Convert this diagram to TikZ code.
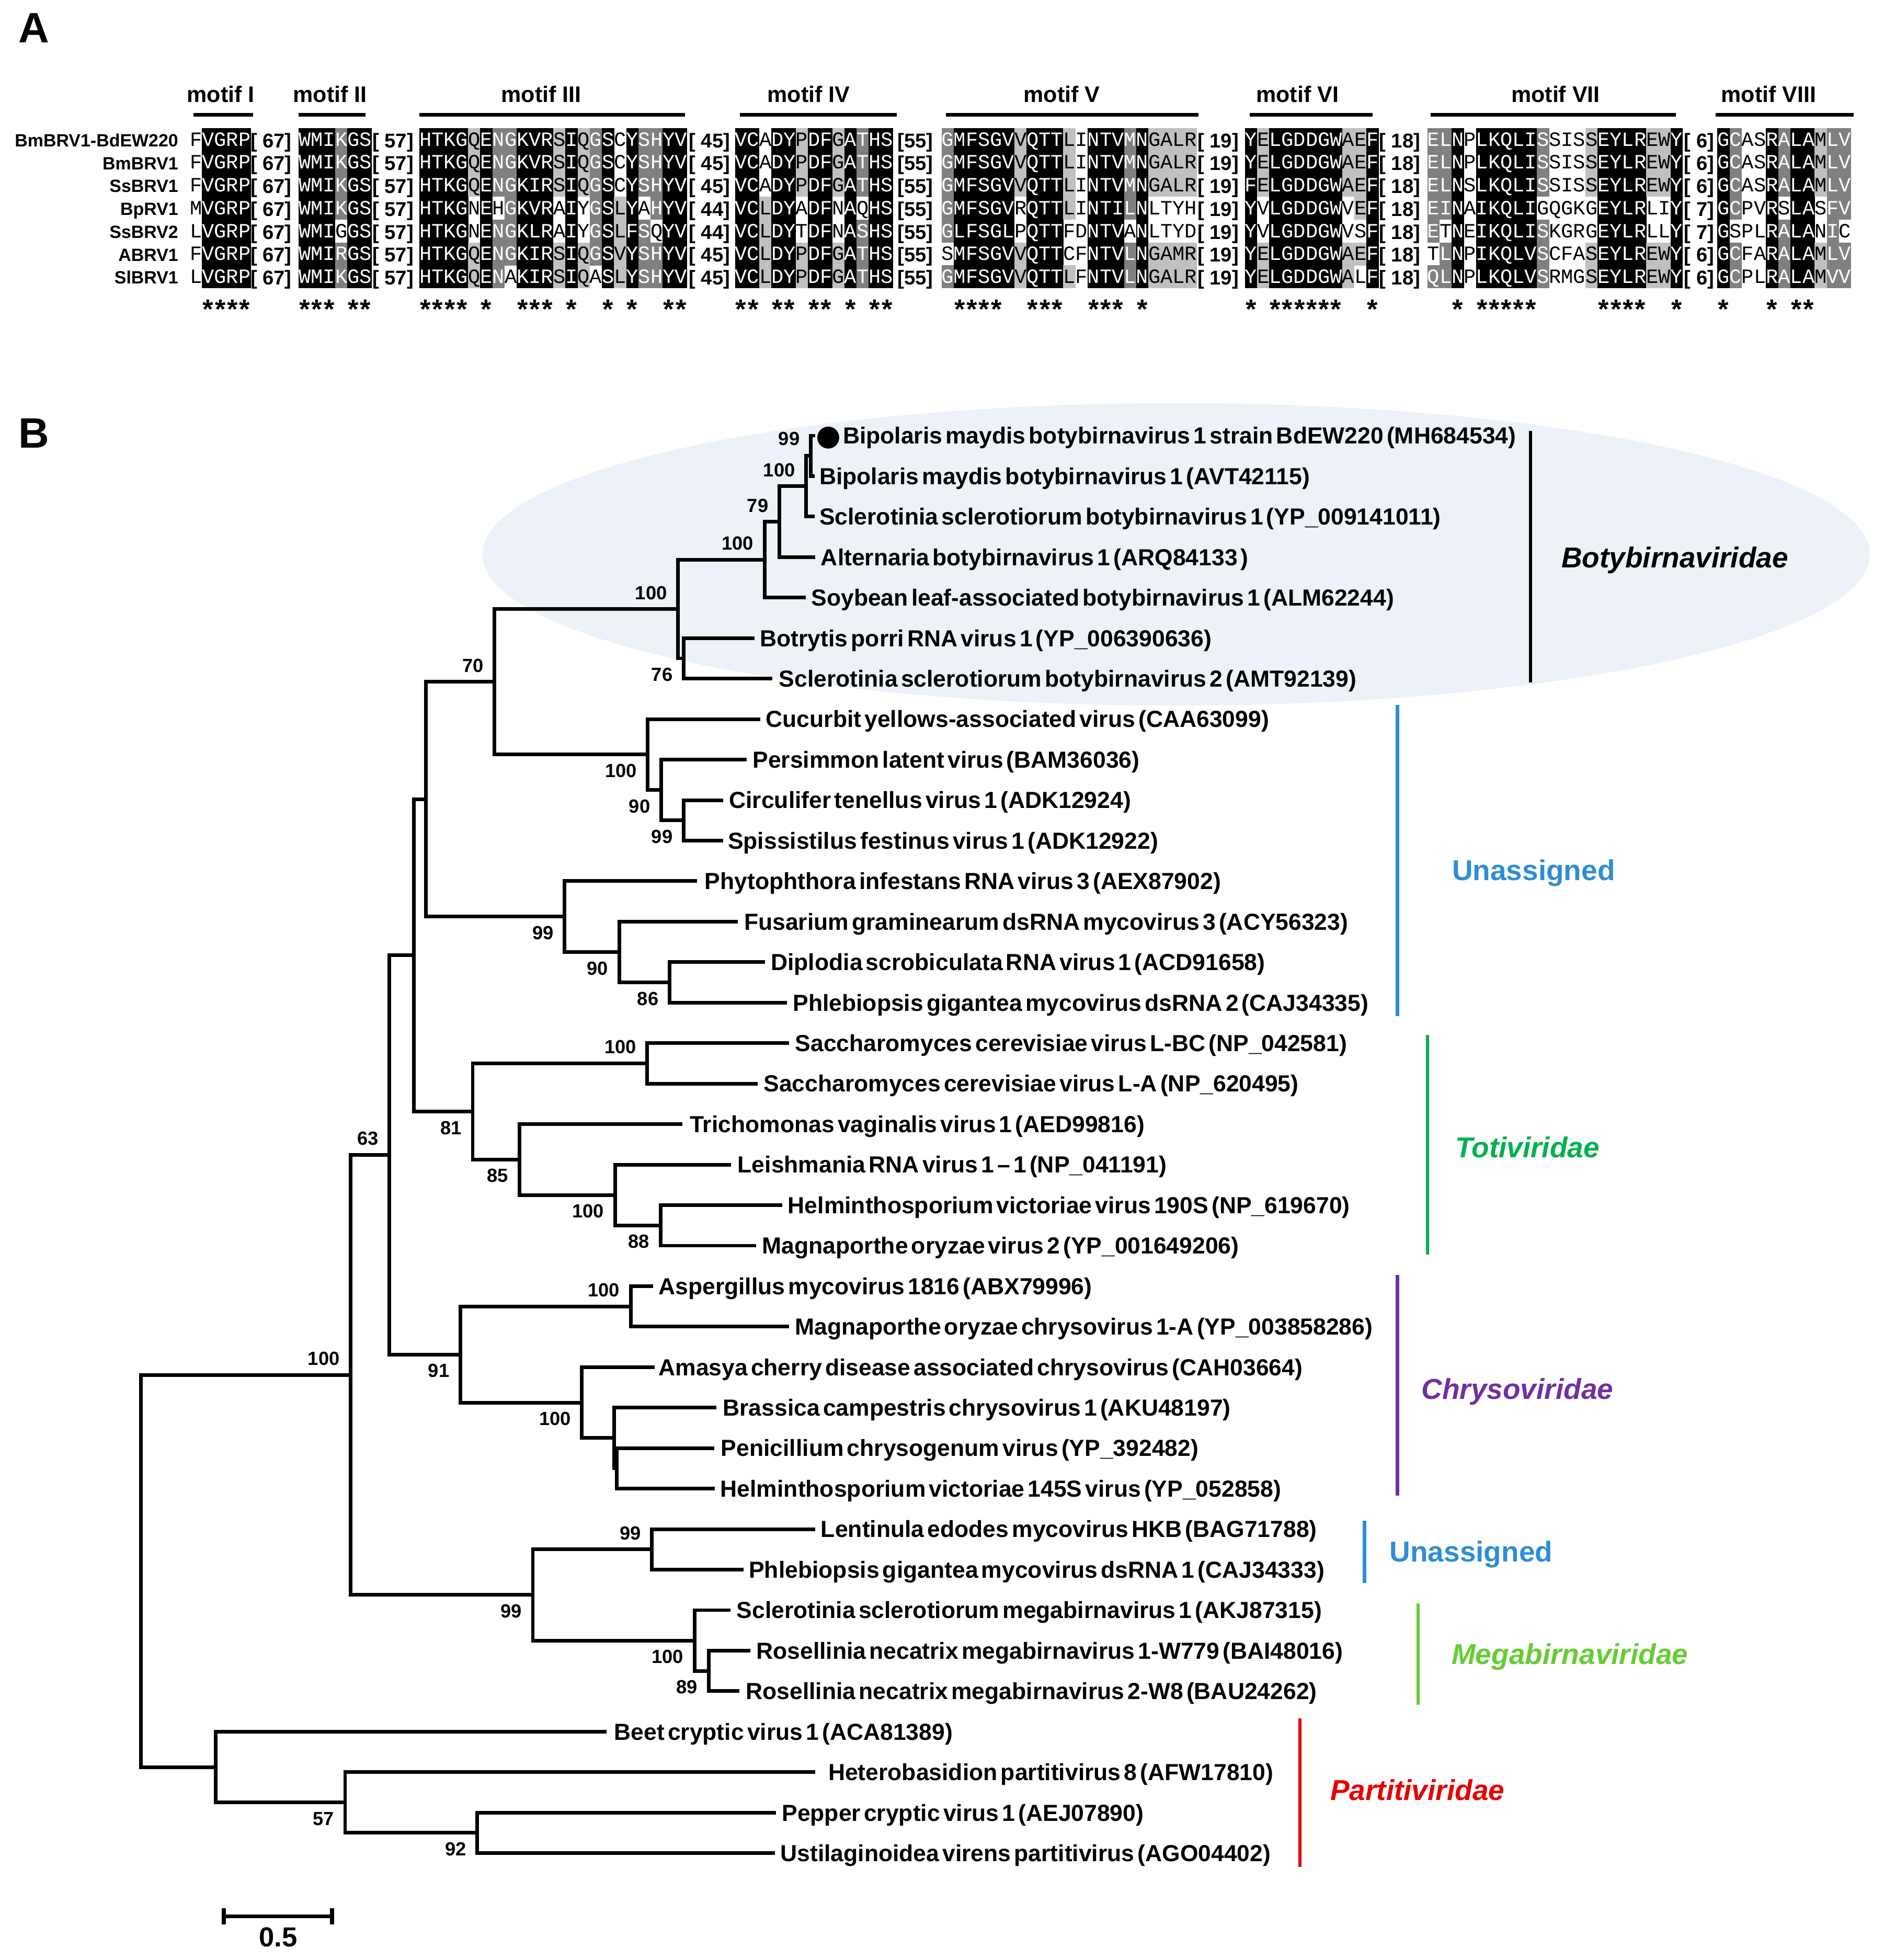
\documentclass[tikz,border=0pt]{standalone}
\usepackage{fontspec}
\setmainfont{Liberation Sans}
\newfontfamily\resfont{Liberation Mono}
\newfontfamily\treefont{Liberation Sans}[WordSpace=0.5]
\newfontfamily\dotfont{DejaVu Sans}

\definecolor{ellfill}{RGB}{237,241,248}
\definecolor{unblue}{RGB}{46,142,212}
\definecolor{totigreen}{RGB}{0,176,80}
\definecolor{chrysopurple}{RGB}{112,48,160}
\definecolor{megagreen}{RGB}{102,204,51}
\definecolor{partired}{RGB}{230,0,0}
\definecolor{shk}{RGB}{0,0,0}
\definecolor{shd}{RGB}{128,128,128}
\definecolor{shl}{RGB}{192,192,192}
\definecolor{shw}{RGB}{255,255,255}
\colorlet{txk}{white}
\colorlet{txd}{white}
\colorlet{txl}{black}
\colorlet{txw}{black}

% alignment: one cell per residue, '|' starts the next block
\newcount\alnc
\newcount\alnseg
\def\alnxs{{151.9,239,335.6,588,753.3,996,1142,1374}}
\def\alnloop#1#2\relax#3#4\relax{%
  \ifx|#1\global\advance\alnseg by 1\relax\global\alnc=0\relax
  \else\alndo{#1}{#3}\global\advance\alnc by 1\relax\fi
  \ifx\relax#2\relax\else\alnloop#2\relax#4\relax\fi}
\newcommand\alncell[2]{%
  \pgfmathsetmacro\alncx{\alnxs[\the\alnseg]+9.73*\the\alnc}%
  \ifx w#2\else\fill[sh#2] (\alncx,\alnyo-9.7) rectangle ++(9.85,18.4);\fi
  \node[res, text=tx#2] (a\alnk-\the\alnseg-\the\alnc) at (\alncx+4.865,\alnyo) {#1};}
\newcommand\alnseq[4]{%
  \def\alnk{#1}\def\alnyo{#2}\global\alnc=0\relax\global\alnseg=0\relax
  \let\alndo\alncell
  \alnloop#3\relax#4\relax}
\newcommand\alnstar[2]{%
  \if s#2\pgfmathsetmacro\alncx{\alnxs[\the\alnseg]+9.73*\the\alnc}%
  \node[cons] (s-\the\alnseg-\the\alnc) at (\alncx+4.865,243) {*};\fi}
\newcommand\alnstars[1]{%
  \global\alnc=0\relax\global\alnseg=0\relax
  \let\alndo\alnstar
  \alnloop#1\relax#1\relax}

\tikzset{
    branch/.style={line width=1.45pt},
    leaflab/.style={anchor=base west, inner sep=0pt, yshift=-3.3pt,
        font=\treefont\bfseries\fontsize{9.3}{10}\selectfont},
    boot/.style={anchor=east, inner sep=0pt, xshift=-4.25pt,
        font=\bfseries\fontsize{7.6}{8}\selectfont},
    cladebar/.style={line width=1.3pt},
    cladelab/.style={anchor=base, inner sep=0pt, yshift=-4.1pt,
        font=\bfseries\itshape\fontsize{11.5}{12}\selectfont},
    cladeup/.style={cladelab, font=\bfseries\fontsize{11.5}{12}\selectfont},
    res/.style={anchor=base, inner sep=0pt, yshift=-2.3pt,
        font=\resfont\fontsize{8.1}{8}\selectfont},
    cons/.style={anchor=base, inner sep=0pt, yshift=-6pt,
        font=\bfseries\fontsize{11}{11}\selectfont},
    seqname/.style={anchor=base east, inner sep=0pt, yshift=-2.55pt,
        font=\bfseries\fontsize{7.1}{8}\selectfont},
    gap/.style={anchor=base west, inner sep=0pt, yshift=-2.9pt,
        font=\bfseries\fontsize{8}{8}\selectfont},
    motiflab/.style={anchor=base, inner sep=0pt, yshift=-3.2pt,
        font=\bfseries\fontsize{9}{9}\selectfont},
    motifbar/.style={line width=1.5pt},
    panel/.style={anchor=base, inner sep=0pt, yshift=-6.1pt,
        font=\bfseries\fontsize{17}{17}\selectfont}
}

\begin{document}
\begin{tikzpicture}[x=0.5pt, y=-0.5pt]
    \useasboundingbox (0,0) rectangle (1507,1568);

    % panel A: motifs
    \node[panel] (pA) at (27,22) {A};
    \foreach \m/\xc/\xa/\xb in {I/176.6/154.8/202.5, II/264/239/292.5,
        III/433/335.6/548.2, IV/647/591.8/717.3, V/849.5/757/958.8,
        VI/1038/999.8/1098, VII/1244.6/1144.6/1341, VIII/1415/1372.7/1483} {
        \node[motiflab] (m\m) at (\xc,75.3) {motif \m};
        \coordinate (ma\m) at (\xa,91.8);
        \coordinate (mb\m) at (\xb,91.8);
        \draw[motifbar] (ma\m) -- (mb\m);
    }

    \alnseq{1}{112.2}{FVGRP|WMIKGS|HTKGQENGKVRSIQGSCYSHYV|VCADYPDFGATHS|GMFSGVVQTTLINTVMNGALR|YELGDDGWAEF|ELNPLKQLISSISSEYLREWY|GCASRALAMLV}
        {wkkkk|kkkdkk|kkkklkddkkklkldkwkddkk|kkwkklkklkdkk|dkkkkklkkklwkkkdkllll|klkkkkkkllk|ddkwkkkkkdwwwlkkkkllk|kdwwkdkkldd}
    \alnseq{2}{130.5}{FVGRP|WMIKGS|HTKGQENGKVRSIQGSCYSHYV|VCADYPDFGATHS|GMFSGVVQTTLINTVMNGALR|YELGDDGWAEF|ELNPLKQLISSISSEYLREWY|GCASRALAMLV}
        {wkkkk|kkkdkk|kkkklkddkkklkldkwkddkk|kkwkklkklkdkk|dkkkkklkkklwkkkdkllll|klkkkkkkllk|ddkwkkkkkdwwwlkkkkllk|kdwwkdkkldd}
    \alnseq{3}{148.8}{FVGRP|WMIKGS|HTKGQENGKIRSIQGSCYSHYV|VCADYPDFGATHS|GMFSGVVQTTLINTVMNGALR|FELGDDGWAEF|ELNSLKQLISSISSEYLREWY|GCASRALAMLV}
        {wkkkk|kkkdkk|kkkklkddkkklkldkwkddkk|kkwkklkklkdkk|dkkkkklkkklwkkkdkllll|klkkkkkkllk|ddkwkkkkkdwwwlkkkkllk|kdwwkdkkldd}
    \alnseq{4}{167.1}{MVGRP|WMIKGS|HTKGNEHGKVRAIYGSLYAHYV|VCLDYADFNAQHS|GMFSGVRQTTLINTILNLTYH|YVLGDDGWVEF|EINAIKQLIGQGKGEYLRLIY|GCPVRSLASFV}
        {wkkkk|kkkdkk|kkkkwkwdkkkwkwdklkwdkk|kklkkwkkwkwkk|dkkkkkwkkklwkkkdkwwww|kwkkkkkkwlk|ddkwkkkkkwwwwwkkkkwwk|kdwwkwkkwdd}
    \alnseq{5}{185.4}{LVGRP|WMIGGS|HTKGNENGKLRAIYGSLFSQYV|VCLDYTDFNASHS|GLFSGLPQTTFDNTVANLTYD|YVLGDDGWVSF|ETNEIKQLISKGRGEYLRLLY|GSPLRALANIC}
        {wkkkk|kkkwkk|kkkkwkddkkkwkwdklkdwkk|kklkkwkkwkdkk|dkkkkkwkkkwwkkkwkwwww|kwkkkkkkwwk|dwkwkkkkkdwwwwkkkkwwk|kwwwkdkkwdw}
    \alnseq{6}{203.7}{FVGRP|WMIRGS|HTKGQENGKIRSIQGSVYSHYV|VCLDYPDFGATHS|SMFSGVVQTTCFNTVLNGAMR|YELGDDGWAEF|TLNPIKQLVSCFASEYLREWY|GCFARALAMLV}
        {wkkkk|kkkdkk|kkkklkddkkklkldklkddkk|kklkklkklkdkk|wkkkkklkkkwwkkkdkllll|klkkkkkkllk|wdkwkkkkkdwwwlkkkkllk|kdwwkdkkldd}
    \alnseq{7}{222.0}{LVGRP|WMIKGS|HTKGQENAKIRSIQASLYSHYV|VCLDYPDFGATHS|GMFSGVVQTTLFNTVLNGALR|YELGDDGWALF|QLNPLKQLVSRMGSEYLREWY|GCPLRALAMVV}
        {wkkkk|kkkdkk|kkkklkdwkkklklwklkddkk|kklkklkklkdkk|dkkkkklkkklwkkkdkllll|klkkkkkklwk|ddkwkkkkkdwwwlkkkkllk|kdwwkdkkldd}
    \alnstars{nssss|sssnss|ssssnsnnsssnsnnsnsnnss|ssnssnssnsnss|nssssnnsssnnsssnsnnnn|snssssssnns|nnsnsssssnnnnnssssnns|snnnsnssnnn}

    \foreach \k/\nm/\bc/\bg in {1/BmBRV1-BdEW220/45/6, 2/BmBRV1/45/6, 3/SsBRV1/45/6,
        4/BpRV1/44/7, 5/SsBRV2/44/7, 6/ABRV1/45/6, 7/SlBRV1/45/6} {
        \pgfmathsetmacro\ry{112.2+18.3*(\k-1)}
        \node[seqname] (q\k) at (143,\ry) {\nm};
        \node[gap] (g\k-a) at (200,\ry) {[ 67]};
        \node[gap] (g\k-b) at (297.6,\ry) {[ 57]};
        \node[gap] (g\k-c) at (550.8,\ry) {[ \bc]};
        \node[gap] (g\k-d) at (717.7,\ry) {[55]};
        \node[gap] (g\k-e) at (957.7,\ry) {[ 19]};
        \node[gap] (g\k-f) at (1103,\ry) {[ 18]};
        \node[gap] (g\k-g) at (1347,\ry) {[ \bg]};
    }

    % panel B: tree
    \node[panel] (pB) at (27,346) {B};
    \fill[ellfill] (941,443.5) ellipse [x radius=277.5pt, y radius=60.5pt];

    \foreach \i/\xe/\xt/\txt in {
        1/652/674/{\llap{\raisebox{-0.6pt}{\dotfont\fontsize{11.5}{12}\selectfont ●}\hspace{0.8pt}}Bipolaris maydis botybirnavirus 1 strain BdEW220 (MH684534)},
        2/651.7/655.2/{Bipolaris maydis botybirnavirus 1 (AVT42115)},
        3/651.7/655.2/{Sclerotinia sclerotiorum botybirnavirus 1 (YP\_009141011)},
        4/652/656.4/{Alternaria botybirnavirus 1 (ARQ84133 )},
        5/644.5/648.7/{Soybean leaf-associated botybirnavirus 1 (ALM62244)},
        6/603.5/607.7/{Botrytis porri RNA virus 1 (YP\_006390636)},
        7/618/622.8/{Sclerotinia sclerotiorum botybirnavirus 2 (AMT92139)},
        8/608.2/612.3/{Cucurbit yellows-associated virus (CAA63099)},
        9/597.6/601.8/{Persimmon latent virus (BAM36036)},
        10/578.4/583/{Circulifer tenellus virus 1 (ADK12924)},
        11/578.4/582/{Spissistilus festinus virus 1 (ADK12922)},
        12/557.5/563.5/{Phytophthora infestans RNA virus 3 (AEX87902)},
        13/590.5/595/{Fusarium graminearum dsRNA mycovirus 3 (ACY56323)},
        14/612/616.4/{Diplodia scrobiculata RNA virus 1 (ACD91658)},
        15/629.5/634/{Phlebiopsis gigantea mycovirus dsRNA 2 (CAJ34335)},
        16/631.5/635.8/{Saccharomyces cerevisiae virus L-BC (NP\_042581)},
        17/606.2/610.6/{Saccharomyces cerevisiae virus L-A (NP\_620495)},
        18/546/551.5/{Trichomonas vaginalis virus 1 (AED99816)},
        19/585/589.8/{Leishmania RNA virus 1 – 1 (NP\_041191)},
        20/625.9/630/{Helminthosporium victoriae virus 190S (NP\_619670)},
        21/605/609.4/{Magnaporthe oryzae virus 2 (YP\_001649206)},
        22/522.7/526.5/{Aspergillus mycovirus 1816 (ABX79996)},
        23/631.5/635.8/{Magnaporthe oryzae chrysovirus 1-A (YP\_003858286)},
        24/523.9/526.5/{Amasya cherry disease associated chrysovirus (CAH03664)},
        25/573.2/578/{Brassica campestris chrysovirus 1 (AKU48197)},
        26/571.3/576.5/{Penicillium chrysogenum virus (YP\_392482)},
        27/572/576/{Helminthosporium victoriae 145S virus (YP\_052858)},
        28/652.3/656.4/{Lentinula edodes mycovirus HKB (BAG71788)},
        29/594.9/598.8/{Phlebiopsis gigantea mycovirus dsRNA 1 (CAJ34333)},
        30/584.4/588.9/{Sclerotinia sclerotiorum megabirnavirus 1 (AKJ87315)},
        31/600.5/604.7/{Rosellinia necatrix megabirnavirus 1-W779 (BAI48016)},
        32/591.7/596.4/{Rosellinia necatrix megabirnavirus 2-W8 (BAU24262)},
        33/485.4/491/{Beet cryptic virus 1 (ACA81389)},
        34/652.3/662.3/{Heterobasidion partitivirus 8 (AFW17810)},
        35/621/625.2/{Pepper cryptic virus 1 (AEJ07890)},
        36/619.9/624/{Ustilaginoidea virens partitivirus (AGO04402)}} {
        \pgfmathsetmacro\ly{348.5+32.4*(\i-1)}
        \coordinate (l\i) at (\xe,\ly);
        \node[leaflab] (t\i) at (\xt,\ly) {\txt};
    }

    % internal nodes
    \coordinate (nBm) at (648.7,364.7);
    \coordinate (nBmSs) at (645,389);
    \coordinate (nBmAl) at (623.6,417.35);
    \coordinate (nBmSl) at (611.7,447.7);
    \coordinate (nBpSs) at (547,526.7);
    \coordinate (nBoty) at (542.5,487.2);
    \coordinate (nCiSp) at (547,656.3);
    \coordinate (nPeCi) at (529,632);
    \coordinate (nCuPe) at (518.3,603.65);
    \coordinate (nBotyUn) at (395.7,545.4);
    \coordinate (nDiPh) at (535.7,785.9);
    \coordinate (nFuDi) at (495.5,761.6);
    \coordinate (nPhyt) at (451.8,733.25);
    \coordinate (nUnasA) at (340.8,639.3);
    \coordinate (nSacc) at (517.9,850.7);
    \coordinate (nHeMa) at (528.4,980.3);
    \coordinate (nLeis) at (492,956);
    \coordinate (nTric) at (415.5,927.65);
    \coordinate (nToti) at (378.2,889.2);
    \coordinate (nBigA) at (331,764.25);
    \coordinate (nAsMa) at (504.7,1045.1);
    \coordinate (nPeHe) at (493.5,1174.7);
    \coordinate (nBrPe) at (491.3,1150.4);
    \coordinate (nAmBr) at (465.6,1122.05);
    \coordinate (nChry) at (368.4,1083.6);
    \coordinate (nBigB) at (311.6,923.9);
    \coordinate (nLePh) at (521.6,1239.5);
    \coordinate (nRoRo) at (566.9,1336.7);
    \coordinate (nMega) at (555.6,1312.4);
    \coordinate (nUnasB) at (426.3,1275.95);
    \coordinate (nIngroup) at (280.6,1099.9);
    \coordinate (nPeUs) at (381.9,1466.3);
    \coordinate (nHePe) at (276.1,1442);
    \coordinate (nPart) at (172.6,1413.65);
    \coordinate (nRoot) at (112.8,1256.8);

    \foreach \p/\c in {nBm/l1, nBm/l2, nBmSs/nBm, nBmSs/l3, nBmAl/nBmSs, nBmAl/l4,
        nBmSl/nBmAl, nBmSl/l5, nBpSs/l6, nBpSs/l7, nBoty/nBmSl, nBoty/nBpSs,
        nCiSp/l10, nCiSp/l11, nPeCi/l9, nPeCi/nCiSp, nCuPe/l8, nCuPe/nPeCi,
        nBotyUn/nBoty, nBotyUn/nCuPe, nDiPh/l14, nDiPh/l15, nFuDi/l13, nFuDi/nDiPh,
        nPhyt/l12, nPhyt/nFuDi, nUnasA/nBotyUn, nUnasA/nPhyt,
        nSacc/l16, nSacc/l17, nHeMa/l20, nHeMa/l21, nLeis/l19, nLeis/nHeMa,
        nTric/l18, nTric/nLeis, nToti/nSacc, nToti/nTric, nBigA/nUnasA, nBigA/nToti,
        nAsMa/l22, nAsMa/l23, nPeHe/l26, nPeHe/l27, nBrPe/l25, nBrPe/nPeHe,
        nAmBr/l24, nAmBr/nBrPe, nChry/nAsMa, nChry/nAmBr, nBigB/nBigA, nBigB/nChry,
        nLePh/l28, nLePh/l29, nRoRo/l31, nRoRo/l32, nMega/l30, nMega/nRoRo,
        nUnasB/nLePh, nUnasB/nMega, nIngroup/nBigB, nIngroup/nUnasB,
        nPeUs/l35, nPeUs/l36, nHePe/l34, nHePe/nPeUs, nPart/l33, nPart/nHePe,
        nRoot/nIngroup, nRoot/nPart}
        \draw[branch] (\p) |- (\c);

    % bootstrap values
    \foreach \v/\n/\dy in {99/nBm/6.8, 100/nBmSs/6.5, 79/nBmAl/6.5, 100/nBmSl/6.5,
        100/nBoty/6.5, 76/nBpSs/-6.5, 70/nBotyUn/6.5, 100/nCuPe/-6.5, 90/nPeCi/-6.5,
        99/nCiSp/-6.5, 99/nPhyt/-6.5, 90/nFuDi/-6.5, 86/nDiPh/-6.5, 100/nSacc/6.5,
        81/nToti/-6.5, 85/nTric/-6.5, 100/nLeis/-6.5, 88/nHeMa/-6.5, 63/nBigB/6.5,
        100/nAsMa/6.5, 91/nChry/-6.5, 100/nAmBr/-6.5, 100/nIngroup/6.5, 99/nLePh/6.5,
        99/nUnasB/-6.5, 100/nMega/-6.5, 89/nRoRo/-6.5, 57/nHePe/-6.5, 92/nPeUs/-6.5}
        \node[boot, yshift=\dy pt] (b\n) at (\n) {\v};

    % clade bars
    \foreach \cl/\x/\ya/\yb/\col in {boty/1224.5/344.6/546/black,
        unA/1118/564/813/unblue, toti/1142/828/1003.7/totigreen,
        chry/1118/1020/1196.5/chrysopurple, unB/1091.7/1216.6/1266.4/unblue,
        mega/1134.6/1282.5/1364/megagreen, part/1040/1374.8/1493.6/partired} {
        \coordinate (\cl-top) at (\x,\ya);
        \coordinate (\cl-bot) at (\x,\yb);
        \draw[cladebar, \col] (\cl-top) -- (\cl-bot);
    }
    \node[cladelab, text=black] (lboty) at (1340,446) {Botybirnaviridae};
    \node[cladeup, text=unblue] (lunA) at (1227,696) {Unassigned};
    \node[cladelab, text=totigreen] (ltoti) at (1222,918) {Totiviridae};
    \node[cladelab, text=chrysopurple] (lchry) at (1214,1111) {Chrysoviridae};
    \node[cladeup, text=unblue] (lunB) at (1177,1241) {Unassigned};
    \node[cladelab, text=megagreen] (lmega) at (1256,1323) {Megabirnaviridae};
    \node[cladelab, text=partired] (lpart) at (1134,1432) {Partitiviridae};

    % scale bar
    \coordinate (sbl) at (179,1533);
    \coordinate (sbr) at (265.7,1533);
    \draw[line width=1.6pt] (sbl) -- (sbr);
    \draw[line width=1.6pt] ([yshift=3.3pt]sbl) -- ([yshift=-3.3pt]sbl);
    \draw[line width=1.6pt] ([yshift=3.3pt]sbr) -- ([yshift=-3.3pt]sbr);
    \node[anchor=base, inner sep=0pt, yshift=-3.9pt,
        font=\bfseries\fontsize{11}{11}\selectfont] (sbv) at (222.6,1549.6) {0.5};
\end{tikzpicture}
\end{document}
